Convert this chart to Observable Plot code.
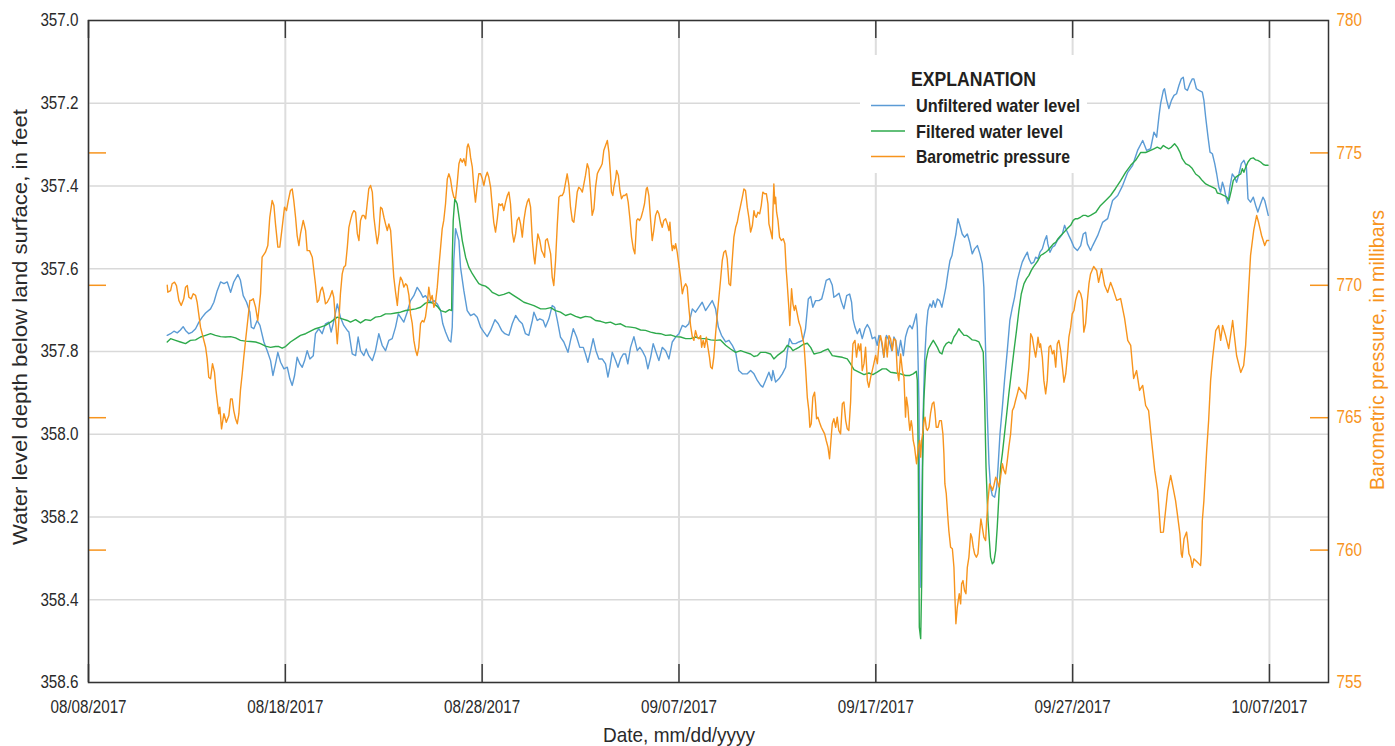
<!DOCTYPE html>
<html>
<head>
<meta charset="utf-8">
<script src="https://cdn.jsdelivr.net/npm/d3@7"></script>
<script src="https://cdn.jsdelivr.net/npm/@observablehq/plot@0.6"></script>
<style>
  html, body { margin: 0; padding: 0; background: #fff; }
  #chart svg { display: block; }
</style>
</head>
<body>
<div id="chart"></div>
<script>
// Time values are days elapsed since 08/08/2017 00:00.
const START = Date.UTC(2017, 7, 8);
const DAY = 86400000;

// Unfiltered water level, feet below land surface: [day, depth]
const unfiltered = [[4.00,357.761],[4.17,357.757],[4.34,357.751],[4.51,357.755],[4.67,357.748],[4.81,357.740],[4.93,357.749],[5.10,357.757],[5.27,357.753],[5.44,357.745],[5.61,357.729],[5.78,357.717],[5.95,357.707],[6.20,357.697],[6.37,357.681],[6.54,357.653],[6.71,357.632],[6.88,357.636],[7.05,357.632],[7.22,357.657],[7.38,357.632],[7.59,357.614],[7.72,357.628],[7.86,357.665],[8.03,357.681],[8.20,357.705],[8.27,357.741],[8.40,357.745],[8.57,357.725],[8.71,357.737],[8.91,357.777],[9.08,357.798],[9.25,357.822],[9.37,357.858],[9.50,357.830],[9.62,357.802],[9.76,357.826],[9.93,357.842],[10.10,357.838],[10.23,357.866],[10.35,357.882],[10.47,357.858],[10.60,357.814],[10.74,357.830],[10.86,357.838],[10.98,357.822],[11.11,357.798],[11.25,357.818],[11.42,357.810],[11.53,357.757],[11.70,357.745],[11.87,357.757],[12.04,357.733],[12.21,357.729],[12.33,357.753],[12.47,357.725],[12.64,357.685],[12.80,357.717],[12.97,357.737],[13.15,357.749],[13.23,357.753],[13.40,357.806],[13.57,357.810],[13.70,357.765],[13.82,357.798],[13.99,357.810],[14.11,357.794],[14.24,357.810],[14.42,357.822],[14.58,357.798],[14.75,357.757],[14.92,357.785],[15.09,357.798],[15.26,357.773],[15.43,357.769],[15.60,357.741],[15.74,357.709],[15.85,357.717],[16.02,357.729],[16.19,357.705],[16.36,357.677],[16.53,357.665],[16.70,357.645],[16.87,357.657],[16.99,357.669],[17.12,357.665],[17.29,357.677],[17.43,357.681],[17.55,357.677],[17.72,357.685],[17.89,357.701],[18.00,357.733],[18.14,357.753],[18.31,357.773],[18.41,357.777],[18.48,357.741],[18.56,357.580],[18.65,357.503],[18.82,357.532],[18.90,357.596],[19.07,357.653],[19.24,357.701],[19.41,357.713],[19.58,357.709],[19.75,357.717],[19.92,357.741],[20.09,357.753],[20.26,357.764],[20.43,357.749],[20.65,357.723],[20.82,357.733],[20.99,357.749],[21.15,357.757],[21.36,357.761],[21.53,357.733],[21.70,357.713],[21.87,357.725],[22.04,357.733],[22.20,357.757],[22.37,357.761],[22.55,357.725],[22.63,357.705],[22.80,357.725],[22.93,357.721],[23.10,357.725],[23.22,357.741],[23.39,357.721],[23.56,357.689],[23.68,357.693],[23.82,357.725],[23.98,357.765],[24.15,357.777],[24.36,357.802],[24.49,357.773],[24.63,357.745],[24.80,357.765],[24.96,357.790],[25.14,357.790],[25.25,357.806],[25.37,357.826],[25.51,357.798],[25.64,357.769],[25.78,357.798],[25.93,357.818],[26.10,357.818],[26.27,357.830],[26.39,357.862],[26.49,357.838],[26.61,357.802],[26.78,357.822],[26.90,357.838],[27.03,357.818],[27.17,357.806],[27.29,357.806],[27.40,357.830],[27.54,357.790],[27.71,357.764],[27.88,357.798],[28.01,357.790],[28.13,357.798],[28.30,357.814],[28.42,357.842],[28.56,357.814],[28.69,357.781],[28.81,357.798],[28.98,357.822],[29.15,357.790],[29.32,357.798],[29.49,357.818],[29.66,357.777],[29.83,357.765],[30.00,357.757],[30.17,357.737],[30.34,357.741],[30.50,357.733],[30.68,357.697],[30.84,357.705],[31.01,357.693],[31.18,357.681],[31.35,357.701],[31.52,357.689],[31.69,357.677],[31.86,357.697],[32.00,357.741],[32.16,357.761],[32.37,357.777],[32.54,357.773],[32.71,357.785],[32.88,357.802],[33.04,357.846],[33.22,357.854],[33.47,357.854],[33.64,357.846],[33.81,357.854],[33.98,357.870],[34.15,357.882],[34.26,357.886],[34.40,357.870],[34.57,357.850],[34.71,357.870],[34.77,357.846],[34.91,357.874],[35.08,357.866],[35.25,357.854],[35.42,357.838],[35.50,357.802],[35.62,357.769],[35.76,357.781],[35.93,357.781],[36.09,357.777],[36.30,357.773],[36.43,357.745],[36.57,357.673],[36.69,357.667],[36.80,357.693],[36.94,357.677],[37.11,357.677],[37.25,357.673],[37.36,357.653],[37.48,357.628],[37.65,357.624],[37.79,357.640],[37.87,357.669],[37.99,357.665],[38.13,357.659],[38.26,357.681],[38.38,357.697],[38.52,357.665],[38.67,357.661],[38.77,357.681],[38.84,357.721],[38.94,357.741],[39.06,357.757],[39.18,357.745],[39.31,357.769],[39.45,357.745],[39.57,357.735],[39.69,357.745],[39.82,357.769],[39.96,357.765],[40.07,357.785],[40.16,357.761],[40.28,357.773],[40.41,357.814],[40.54,357.761],[40.67,357.773],[40.81,357.798],[40.92,357.765],[41.01,357.773],[41.14,357.810],[41.26,357.773],[41.40,357.810],[41.51,357.765],[41.63,357.745],[41.73,357.737],[41.85,357.745],[41.97,357.725],[42.06,357.709],[42.11,357.741],[42.19,357.918],[42.24,358.241],[42.29,358.370],[42.34,358.160],[42.40,357.959],[42.48,357.822],[42.57,357.741],[42.65,357.701],[42.75,357.685],[42.84,357.693],[42.92,357.677],[43.02,357.693],[43.13,357.673],[43.24,357.677],[43.36,357.693],[43.46,357.669],[43.56,357.645],[43.66,357.612],[43.77,357.580],[43.87,357.568],[43.97,357.540],[44.07,357.516],[44.17,357.479],[44.27,357.495],[44.39,357.516],[44.51,357.524],[44.65,357.516],[44.77,357.536],[44.90,357.564],[45.02,357.552],[45.16,357.544],[45.29,357.564],[45.41,357.588],[45.49,357.645],[45.58,357.798],[45.67,357.959],[45.75,358.071],[45.83,358.128],[45.92,358.148],[46.04,358.152],[46.14,358.128],[46.21,358.080],[46.31,357.999],[46.43,357.935],[46.54,357.870],[46.68,357.798],[46.81,357.725],[46.94,357.693],[47.05,357.669],[47.19,357.628],[47.32,357.604],[47.44,357.584],[47.56,357.572],[47.70,357.560],[47.78,357.576],[47.90,357.588],[48.03,357.584],[48.12,357.572],[48.24,357.576],[48.34,357.560],[48.46,357.552],[48.58,357.532],[48.68,357.520],[48.74,357.540],[48.85,357.560],[48.97,357.548],[49.09,357.544],[49.22,357.532],[49.36,357.524],[49.48,357.516],[49.59,357.495],[49.70,357.508],[49.81,357.520],[49.93,357.532],[50.07,357.548],[50.24,357.556],[50.41,357.544],[50.54,357.516],[50.66,357.512],[50.75,357.540],[50.91,357.556],[51.02,357.544],[51.27,357.520],[51.52,357.488],[51.78,357.479],[52.03,357.435],[52.29,357.423],[52.54,357.399],[52.80,357.367],[53.05,357.350],[53.30,357.314],[53.56,357.290],[53.76,357.314],[53.96,357.310],[54.13,357.270],[54.27,357.282],[54.39,357.230],[54.47,357.201],[54.61,357.169],[54.67,357.165],[54.78,357.193],[54.89,357.213],[55.02,357.193],[55.15,357.181],[55.28,357.177],[55.40,357.157],[55.52,357.141],[55.62,357.137],[55.71,357.165],[55.83,357.169],[55.96,357.153],[56.08,357.141],[56.16,357.141],[56.29,357.165],[56.42,357.169],[56.59,357.173],[56.67,357.193],[56.76,357.234],[56.88,357.282],[56.98,357.318],[57.10,357.322],[57.22,357.346],[57.32,357.371],[57.43,357.403],[57.52,357.415],[57.61,357.391],[57.69,357.403],[57.83,357.435],[57.89,357.443],[57.99,357.403],[58.11,357.371],[58.23,357.379],[58.33,357.391],[58.45,357.371],[58.57,357.346],[58.70,357.338],[58.83,357.355],[58.91,357.431],[59.04,357.439],[59.18,357.427],[59.30,357.447],[59.41,357.463],[59.55,357.443],[59.67,357.427],[59.76,357.435],[59.86,357.455],[59.94,357.471]];

// Filtered water level, feet below land surface: [day, depth]
const filtered = [[4.00,357.777],[4.17,357.769],[4.42,357.773],[4.67,357.777],[4.93,357.781],[5.18,357.773],[5.44,357.772],[5.69,357.765],[5.95,357.761],[6.20,357.757],[6.45,357.761],[6.71,357.764],[6.96,357.765],[7.22,357.764],[7.47,357.767],[7.72,357.773],[7.98,357.775],[8.23,357.776],[8.49,357.777],[8.74,357.781],[8.99,357.787],[9.25,357.790],[9.50,357.788],[9.67,357.788],[9.84,357.792],[10.01,357.788],[10.26,357.777],[10.52,357.769],[10.77,357.761],[11.03,357.757],[11.28,357.751],[11.53,357.745],[11.79,357.741],[12.04,357.737],[12.30,357.729],[12.47,357.723],[12.64,357.717],[12.89,357.721],[13.15,357.725],[13.31,357.729],[13.57,357.723],[13.82,357.731],[14.07,357.723],[14.33,357.725],[14.58,357.717],[14.84,357.715],[15.09,357.709],[15.35,357.709],[15.60,357.707],[15.85,357.705],[16.11,357.701],[16.36,357.699],[16.62,357.697],[16.87,357.693],[17.12,357.683],[17.29,357.681],[17.50,357.683],[17.72,357.691],[17.89,357.701],[18.14,357.705],[18.34,357.699],[18.45,357.701],[18.48,357.580],[18.53,357.483],[18.61,357.431],[18.73,357.443],[18.85,357.483],[18.99,357.532],[19.16,357.572],[19.32,357.596],[19.50,357.612],[19.66,357.624],[19.83,357.636],[20.01,357.640],[20.17,357.642],[20.34,357.648],[20.51,357.657],[20.68,357.661],[20.85,357.665],[21.10,357.662],[21.36,357.657],[21.61,357.665],[21.87,357.673],[22.12,357.681],[22.37,357.685],[22.63,357.689],[22.97,357.697],[23.22,357.697],[23.48,357.694],[23.73,357.701],[23.98,357.705],[24.24,357.713],[24.49,357.709],[24.75,357.715],[25.00,357.719],[25.25,357.715],[25.51,357.717],[25.76,357.725],[26.02,357.727],[26.27,357.731],[26.52,357.729],[26.78,357.735],[27.03,357.733],[27.29,357.740],[27.54,357.741],[27.79,357.743],[28.05,357.748],[28.30,357.749],[28.56,357.753],[28.81,357.756],[29.07,357.757],[29.32,357.761],[29.57,357.760],[29.83,357.764],[30.08,357.765],[30.34,357.769],[30.59,357.769],[30.84,357.765],[31.10,357.769],[31.35,357.769],[31.61,357.772],[31.86,357.773],[32.11,357.772],[32.37,357.785],[32.62,357.794],[32.88,357.802],[33.13,357.798],[33.38,357.802],[33.64,357.806],[33.81,357.812],[33.98,357.810],[34.15,357.802],[34.40,357.802],[34.65,357.806],[34.82,357.818],[34.99,357.810],[35.16,357.804],[35.33,357.798],[35.50,357.785],[35.67,357.790],[35.79,357.798],[35.93,357.794],[36.09,357.790],[36.30,357.783],[36.52,357.780],[36.69,357.790],[36.86,357.806],[37.03,357.804],[37.20,357.802],[37.36,357.798],[37.58,357.794],[37.79,357.810],[38.04,357.812],[38.30,357.814],[38.55,357.818],[38.72,357.830],[38.89,357.844],[39.14,357.850],[39.40,357.856],[39.65,357.852],[39.85,357.856],[40.07,357.850],[40.33,357.842],[40.53,357.842],[40.75,357.850],[41.01,357.852],[41.26,357.854],[41.51,357.858],[41.73,357.858],[41.90,357.854],[42.06,357.848],[42.11,357.870],[42.16,358.080],[42.21,358.466],[42.28,358.494],[42.33,358.361],[42.38,358.080],[42.44,357.918],[42.55,357.822],[42.67,357.794],[42.82,357.781],[42.92,357.773],[43.02,357.781],[43.13,357.790],[43.24,357.802],[43.36,357.806],[43.46,357.790],[43.58,357.781],[43.71,357.777],[43.84,357.781],[43.97,357.765],[44.09,357.757],[44.22,357.745],[44.34,357.753],[44.48,357.761],[44.61,357.761],[44.73,357.765],[44.90,357.772],[45.07,357.773],[45.24,357.777],[45.36,357.790],[45.46,357.802],[45.53,357.918],[45.60,358.080],[45.70,358.208],[45.77,358.257],[45.83,358.297],[45.92,358.313],[46.00,358.309],[46.09,358.281],[46.17,358.225],[46.26,358.144],[46.34,358.080],[46.43,358.047],[46.54,357.999],[46.65,357.951],[46.76,357.902],[46.88,357.854],[47.02,357.798],[47.15,357.749],[47.27,357.701],[47.39,357.661],[47.53,357.636],[47.66,357.624],[47.78,357.616],[47.90,357.604],[48.00,357.596],[48.12,357.588],[48.24,357.580],[48.37,357.568],[48.51,357.564],[48.63,357.560],[48.74,357.556],[48.88,357.548],[49.02,357.540],[49.14,357.536],[49.25,357.528],[49.39,357.520],[49.56,357.512],[49.73,357.503],[49.90,357.495],[50.03,357.483],[50.15,357.479],[50.27,357.479],[50.41,357.475],[50.54,357.471],[50.66,357.471],[50.78,357.474],[50.91,357.471],[51.17,357.464],[51.42,357.447],[51.68,357.435],[51.93,357.423],[52.18,357.406],[52.44,357.387],[52.69,357.367],[52.95,357.350],[53.20,357.338],[53.46,357.319],[53.71,357.319],[53.96,357.314],[54.13,357.310],[54.30,357.306],[54.47,357.310],[54.61,357.302],[54.73,357.306],[54.89,357.310],[55.02,357.306],[55.18,357.298],[55.32,357.306],[55.45,357.318],[55.57,357.334],[55.74,357.346],[55.91,357.350],[56.08,357.358],[56.25,357.371],[56.42,357.377],[56.59,357.387],[56.76,357.395],[56.93,357.399],[57.10,357.403],[57.27,357.407],[57.35,357.417],[57.52,357.419],[57.69,357.423],[57.83,357.427],[57.94,357.435],[58.06,357.411],[58.16,357.387],[58.28,357.379],[58.40,357.375],[58.54,357.371],[58.62,357.358],[58.70,357.367],[58.79,357.355],[58.91,357.342],[59.04,357.334],[59.18,357.332],[59.30,357.337],[59.41,357.338],[59.55,357.342],[59.69,357.348],[59.81,357.350],[59.93,357.350]];

// Barometric pressure, millibars: [day, pressure]
const pressure = [[4.00,770.00],[4.03,769.74],[4.17,769.80],[4.25,770.06],[4.37,770.12],[4.47,769.99],[4.59,769.43],[4.71,769.24],[4.84,769.49],[4.93,769.93],[5.02,769.99],[5.10,769.55],[5.22,769.49],[5.32,769.68],[5.44,769.62],[5.52,769.36],[5.60,768.92],[5.69,768.42],[5.95,767.66],[6.03,767.22],[6.11,766.53],[6.20,766.47],[6.30,767.04],[6.40,766.72],[6.47,766.09],[6.54,765.65],[6.62,765.15],[6.67,765.40],[6.76,764.58],[6.88,765.15],[7.00,764.83],[7.13,765.08],[7.22,765.71],[7.30,765.71],[7.38,765.27],[7.47,764.96],[7.56,764.77],[7.64,765.15],[7.72,766.03],[7.81,766.66],[7.89,767.29],[7.98,767.92],[8.09,768.67],[8.20,769.43],[8.27,769.43],[8.37,769.49],[8.49,769.17],[8.60,768.67],[8.74,769.68],[8.82,771.06],[8.99,771.25],[9.11,771.50],[9.21,772.57],[9.33,773.20],[9.42,773.01],[9.50,772.32],[9.62,771.44],[9.72,771.44],[9.84,772.19],[9.96,772.95],[10.06,772.82],[10.15,773.20],[10.26,773.58],[10.35,773.64],[10.43,773.20],[10.52,772.57],[10.60,771.88],[10.69,771.50],[10.77,771.94],[10.91,772.45],[11.03,772.07],[11.11,771.31],[11.23,771.31],[11.37,771.06],[11.45,770.56],[11.53,770.06],[11.62,769.36],[11.70,769.43],[11.79,769.80],[11.88,769.93],[11.96,769.68],[12.04,769.30],[12.13,769.36],[12.26,769.55],[12.38,769.80],[12.46,769.55],[12.55,768.67],[12.64,767.79],[12.72,768.67],[12.80,769.68],[12.89,770.43],[12.97,770.68],[13.06,770.75],[13.15,771.44],[13.23,772.19],[13.31,772.45],[13.40,772.70],[13.48,772.82],[13.57,772.76],[13.66,771.94],[13.74,771.69],[13.82,772.45],[13.91,772.64],[13.99,772.64],[14.08,772.51],[14.16,773.08],[14.24,773.64],[14.33,773.77],[14.42,773.52],[14.50,772.57],[14.58,772.07],[14.67,771.57],[14.75,771.94],[14.84,772.95],[14.92,772.89],[15.01,772.57],[15.09,772.32],[15.18,772.07],[15.26,772.32],[15.35,772.07],[15.43,771.19],[15.51,770.31],[15.60,769.74],[15.69,769.24],[15.77,769.93],[15.85,770.31],[15.94,770.18],[16.02,769.93],[16.11,770.06],[16.19,769.99],[16.28,769.62],[16.36,768.92],[16.45,768.55],[16.53,767.92],[16.62,767.54],[16.70,767.35],[16.78,767.66],[16.87,768.55],[16.96,768.67],[17.04,768.61],[17.12,768.80],[17.21,769.30],[17.29,769.93],[17.38,769.43],[17.46,769.62],[17.55,769.17],[17.63,769.36],[17.72,769.93],[17.80,770.68],[17.89,771.44],[17.97,772.13],[18.05,772.45],[18.14,773.08],[18.23,774.02],[18.31,774.21],[18.39,774.02],[18.48,773.58],[18.56,773.33],[18.65,773.27],[18.73,773.83],[18.82,774.59],[18.90,774.78],[18.99,774.65],[19.07,774.78],[19.16,774.52],[19.24,775.22],[19.29,775.34],[19.36,775.16],[19.41,774.84],[19.50,774.46],[19.58,773.70],[19.66,773.14],[19.75,773.77],[19.83,774.21],[19.92,774.21],[20.01,774.02],[20.09,773.77],[20.17,774.08],[20.26,774.27],[20.34,774.08],[20.43,773.70],[20.51,773.01],[20.59,772.38],[20.68,772.01],[20.77,772.51],[20.85,773.08],[20.94,773.01],[21.02,773.08],[21.10,772.82],[21.19,773.14],[21.28,773.39],[21.36,773.52],[21.44,773.08],[21.53,772.01],[21.61,771.63],[21.70,771.94],[21.78,772.45],[21.87,772.57],[21.95,772.32],[22.04,771.82],[22.12,772.45],[22.21,772.89],[22.29,773.14],[22.37,773.27],[22.46,772.95],[22.55,771.69],[22.63,771.06],[22.68,770.81],[22.76,771.44],[22.83,771.94],[22.93,771.69],[23.02,771.31],[23.10,771.19],[23.17,771.06],[23.22,771.69],[23.31,771.76],[23.39,771.50],[23.48,771.19],[23.56,770.31],[23.64,769.99],[23.73,770.94],[23.82,772.32],[23.90,773.33],[23.98,773.39],[24.07,773.39],[24.15,773.52],[24.24,773.89],[24.32,774.21],[24.41,773.77],[24.49,772.95],[24.58,772.45],[24.66,772.38],[24.75,772.95],[24.83,773.52],[24.91,773.70],[25.00,773.64],[25.09,773.52],[25.17,773.83],[25.25,774.15],[25.34,774.59],[25.42,774.40],[25.51,773.52],[25.59,772.64],[25.68,772.89],[25.76,773.70],[25.85,774.21],[25.93,774.34],[26.02,774.46],[26.10,774.59],[26.18,775.09],[26.27,775.28],[26.36,775.47],[26.44,775.03],[26.52,774.21],[26.57,773.52],[26.64,773.39],[26.69,773.70],[26.78,774.02],[26.83,774.34],[26.92,774.15],[27.00,773.58],[27.08,773.27],[27.17,773.39],[27.25,773.39],[27.34,773.46],[27.42,773.14],[27.50,772.57],[27.59,771.82],[27.68,771.38],[27.76,771.19],[27.85,772.45],[27.91,772.51],[28.00,772.45],[28.08,772.57],[28.17,772.82],[28.25,773.08],[28.34,773.64],[28.39,773.70],[28.47,773.39],[28.56,772.45],[28.64,771.69],[28.72,772.07],[28.81,772.64],[28.90,772.82],[28.98,772.70],[29.07,772.38],[29.15,772.19],[29.23,772.45],[29.32,772.51],[29.41,772.32],[29.49,772.07],[29.54,772.38],[29.61,771.63],[29.66,771.31],[29.71,771.50],[29.78,771.38],[29.83,771.57],[29.91,771.25],[29.99,770.81],[30.08,770.31],[30.17,769.68],[30.25,769.93],[30.34,770.06],[30.42,769.93],[30.50,769.17],[30.59,768.48],[30.68,768.04],[30.76,767.92],[30.84,768.29],[30.93,768.04],[31.01,767.98],[31.10,768.10],[31.15,767.66],[31.23,767.92],[31.30,767.66],[31.39,768.04],[31.47,767.66],[31.55,767.29],[31.61,766.91],[31.69,766.85],[31.77,767.29],[31.86,768.17],[31.95,768.92],[32.03,769.55],[32.11,770.18],[32.20,770.94],[32.28,771.25],[32.37,771.31],[32.45,771.00],[32.54,770.06],[32.62,769.99],[32.67,770.56],[32.74,771.31],[32.79,771.82],[32.88,772.19],[32.96,772.38],[33.04,772.70],[33.13,773.01],[33.22,773.33],[33.30,773.64],[33.38,773.58],[33.47,772.95],[33.55,772.57],[33.64,772.01],[33.73,772.26],[33.81,772.82],[33.86,772.64],[33.93,772.57],[34.01,772.76],[34.10,772.70],[34.18,773.01],[34.26,773.52],[34.35,773.46],[34.44,773.46],[34.52,773.08],[34.57,772.32],[34.65,772.07],[34.74,771.76],[34.77,772.70],[34.82,773.83],[34.87,773.08],[34.91,773.33],[34.96,772.76],[35.03,772.45],[35.11,771.82],[35.20,771.69],[35.30,771.76],[35.38,771.57],[35.45,770.56],[35.50,770.06],[35.58,769.17],[35.63,768.48],[35.72,769.87],[35.79,769.30],[35.86,769.05],[35.92,769.24],[36.01,768.92],[36.09,768.61],[36.18,768.42],[36.27,768.04],[36.35,767.79],[36.43,766.91],[36.52,765.77],[36.60,765.27],[36.65,764.64],[36.72,764.77],[36.80,765.77],[36.89,765.96],[36.94,765.53],[36.99,764.96],[37.06,765.02],[37.14,764.83],[37.23,764.64],[37.31,764.52],[37.40,764.39],[37.48,764.14],[37.57,763.89],[37.65,763.45],[37.72,764.14],[37.79,764.77],[37.87,764.96],[37.96,764.64],[38.04,765.02],[38.12,764.52],[38.21,764.39],[38.30,765.53],[38.38,765.59],[38.47,764.89],[38.55,764.58],[38.63,764.52],[38.72,765.59],[38.77,766.78],[38.84,767.79],[38.94,767.92],[39.02,767.29],[39.11,767.79],[39.18,767.54],[39.24,767.79],[39.31,766.78],[39.40,767.04],[39.48,767.66],[39.57,766.40],[39.65,766.15],[39.74,766.53],[39.82,766.78],[39.90,767.04],[39.99,767.35],[40.08,767.04],[40.16,767.79],[40.24,768.10],[40.33,767.79],[40.41,767.29],[40.50,768.04],[40.58,767.29],[40.67,768.10],[40.75,767.98],[40.84,767.54],[40.92,767.98],[41.01,767.92],[41.09,766.78],[41.17,766.40],[41.26,767.41],[41.35,766.78],[41.43,766.53],[41.51,765.02],[41.56,765.77],[41.63,765.40],[41.68,764.89],[41.73,764.52],[41.80,764.89],[41.85,764.64],[41.90,764.14],[41.97,763.89],[42.02,763.57],[42.07,763.26],[42.11,763.51],[42.16,763.89],[42.23,764.14],[42.28,763.51],[42.33,764.14],[42.38,764.39],[42.45,764.89],[42.50,765.02],[42.57,764.58],[42.62,764.52],[42.70,764.64],[42.78,765.15],[42.87,765.53],[42.95,765.59],[43.00,765.27],[43.07,764.64],[43.16,764.64],[43.24,764.89],[43.33,764.89],[43.41,764.39],[43.46,763.64],[43.51,762.50],[43.58,762.13],[43.66,761.24],[43.71,760.74],[43.80,760.11],[43.89,760.05],[43.97,759.35],[44.02,758.22],[44.07,757.22],[44.14,757.84],[44.19,758.10],[44.24,758.35],[44.31,757.97],[44.36,758.73],[44.43,758.85],[44.51,758.47],[44.58,758.35],[44.65,759.35],[44.73,759.73],[44.82,760.62],[44.88,760.49],[44.95,760.11],[45.02,759.86],[45.11,759.73],[45.19,759.86],[45.27,760.62],[45.34,761.18],[45.41,760.87],[45.49,760.49],[45.58,760.36],[45.63,761.12],[45.70,761.87],[45.78,762.50],[45.87,762.38],[45.93,762.25],[46.00,762.44],[46.09,762.75],[46.17,762.63],[46.26,762.38],[46.34,762.75],[46.43,763.26],[46.51,763.01],[46.59,762.88],[46.68,763.38],[46.76,763.89],[46.85,764.39],[46.94,765.27],[47.02,765.40],[47.10,765.65],[47.19,765.90],[47.27,766.15],[47.36,766.03],[47.44,765.96],[47.53,765.90],[47.61,765.71],[47.70,766.28],[47.78,766.91],[47.87,768.17],[47.95,768.04],[48.03,767.66],[48.12,767.29],[48.17,767.54],[48.24,768.04],[48.32,767.66],[48.37,767.79],[48.46,767.29],[48.54,766.40],[48.63,765.90],[48.71,766.40],[48.80,767.66],[48.88,767.73],[48.97,767.41],[49.05,767.54],[49.14,766.91],[49.22,767.79],[49.30,767.92],[49.39,767.54],[49.48,766.91],[49.56,766.34],[49.65,766.66],[49.73,767.29],[49.81,768.04],[49.90,768.42],[49.98,768.92],[50.07,769.05],[50.15,769.43],[50.24,769.68],[50.32,769.80],[50.41,769.68],[50.49,769.43],[50.57,768.23],[50.66,768.55],[50.75,769.43],[50.83,770.06],[50.91,770.43],[51.07,770.71],[51.22,770.56],[51.32,770.11],[51.47,770.63],[51.63,769.99],[51.78,769.73],[51.93,770.11],[52.08,769.80],[52.24,769.43],[52.44,769.50],[52.64,768.75],[52.80,767.92],[52.95,767.73],[53.10,766.48],[53.25,766.78],[53.40,766.03],[53.56,766.22],[53.71,765.46],[53.86,765.27],[54.01,764.14],[54.17,763.01],[54.32,762.25],[54.47,760.67],[54.61,760.68],[54.67,761.12],[54.83,762.25],[54.98,762.82],[55.11,762.33],[55.23,761.87],[55.32,761.37],[55.45,760.62],[55.52,759.86],[55.57,759.73],[55.66,760.43],[55.79,760.68],[55.86,760.24],[55.91,759.86],[55.99,759.73],[56.08,759.35],[56.16,759.67],[56.25,759.61],[56.34,759.54],[56.42,759.48],[56.50,759.42],[56.54,759.86],[56.59,761.12],[56.67,761.87],[56.81,763.76],[56.91,764.89],[57.01,766.40],[57.11,767.24],[57.27,768.29],[57.42,768.48],[57.52,767.92],[57.62,768.48],[57.77,768.10],[57.93,767.61],[58.13,768.67],[58.33,767.35],[58.54,766.71],[58.69,766.97],[58.79,767.73],[58.94,769.80],[59.04,771.13],[59.20,772.07],[59.35,772.64],[59.45,772.37],[59.60,771.88],[59.76,771.50],[59.86,771.69],[59.96,771.69]];

// Axis ticks
const dateTicks = ["2017-08-08", "2017-08-18", "2017-08-28", "2017-09-07", "2017-09-17", "2017-09-27", "2017-10-07"];
const depthTicks = [357.0, 357.2, 357.4, 357.6, 357.8, 358.0, 358.2, 358.4, 358.6];
const pressureTicks = [755, 760, 765, 770, 775, 780];
const pressureInnerTicks = [760, 765, 770, 775];

// Series names and colours
const seriesNames = ["Unfiltered water level", "Filtered water level", "Barometric pressure"];
const seriesColors = ["#5b9bd5", "#2eaa4c", "#f7941d"];
const [BLUE, GREEN, ORANGE] = seriesColors;

const FONT = "'Liberation Sans', Arial, sans-serif";
const INK = "#2a2a2a";
const NARROW = 0.845; // horizontal squeeze giving a condensed face

// Pressure (755–780 mb, bottom to top) shares the depth axis (358.6–357.0 ft).
const depthOfPressure = p => 357 + (780 - p) * 1.6 / 25;
const pressureOfDepth = y => 780 - (y - 357) * 25 / 1.6;
const toDate = d => new Date(START + d * DAY);

const W = 1395, H = 746;
const M = {left: 88, right: 67, top: 20, bottom: 64};
const innerW = W - M.left - M.right;
const innerH = H - M.top - M.bottom;
const tickLen = 18;
const dates = dateTicks.map(s => new Date(s + "T00:00Z"));

const chart = Plot.plot({
  width: W,
  height: H,
  marginLeft: M.left,
  marginRight: M.right,
  marginTop: M.top,
  marginBottom: M.bottom,
  style: {fontFamily: FONT, fontSize: "18px", color: INK, background: "#fff"},
  x: {type: "utc", domain: [new Date(START), new Date("2017-10-10T00:00Z")]},
  y: {domain: [358.6, 357.0]},
  marks: [
    Plot.gridY(depthTicks, {stroke: "#d9d9d9", strokeOpacity: 1, strokeWidth: 1.5}),
    Plot.gridX(dates, {stroke: "#dddddd", strokeOpacity: 1, strokeWidth: 2}),
    Plot.line(unfiltered, {x: d => toDate(d[0]), y: d => d[1], stroke: BLUE, strokeWidth: 1.4}),
    Plot.line(filtered, {x: d => toDate(d[0]), y: d => d[1], stroke: GREEN, strokeWidth: 1.4}),
    Plot.line(pressure, {x: d => toDate(d[0]), y: d => depthOfPressure(d[1]), stroke: ORANGE, strokeWidth: 1.4}),
    // inward date ticks along the top and bottom edges
    Plot.tickX(dates, {stroke: "#3a3a3a", strokeWidth: 1.5, insetTop: innerH - tickLen}),
    Plot.tickX(dates, {stroke: "#3a3a3a", strokeWidth: 1.5, insetBottom: innerH - tickLen}),
    // inward pressure ticks on both side edges
    Plot.tickY(pressureInnerTicks, {y: depthOfPressure, stroke: ORANGE, strokeWidth: 1.5, insetRight: innerW - tickLen}),
    Plot.tickY(pressureInnerTicks, {y: depthOfPressure, stroke: ORANGE, strokeWidth: 1.5, insetLeft: innerW - tickLen}),
    Plot.axisX(dates, {tickSize: 0, tickPadding: 18, tickFormat: d3.utcFormat("%m/%d/%Y"), label: null, fill: INK}),
    Plot.axisY(depthTicks, {anchor: "left", tickSize: 0, tickPadding: 10, tickFormat: d3.format(".1f"), label: null, fill: INK}),
    Plot.axisY(pressureTicks.map(depthOfPressure), {anchor: "right", tickSize: 0, tickPadding: 8,
      tickFormat: y => String(Math.round(pressureOfDepth(y))), label: null, fill: ORANGE}),
    Plot.frame({stroke: "#333", strokeWidth: 1.5})
  ]
});

document.getElementById("chart").appendChild(chart);

const svg = d3.select(chart);

// Squeeze a text element horizontally so it reads like a condensed face,
// or fit it to a given run length.
function condense(node, factor = NARROW, length = null) {
  const w = length ?? node.getComputedTextLength() * factor;
  if (w > 0) {
    node.setAttribute("textLength", w.toFixed(1));
    node.setAttribute("lengthAdjust", "spacingAndGlyphs");
  }
}

svg.selectAll("g[aria-label$='tick label'] text").each(function() { condense(this); });

function addText(parent, attrs, str, length = null) {
  const t = parent.append("text")
    .attr("font-family", FONT)
    .attr("text-anchor", "start");
  for (const [k, v] of Object.entries(attrs)) t.attr(k, v);
  t.text(str);
  condense(t.node(), NARROW, length);
  return t;
}

// Axis titles
addText(svg, {x: 679, y: 742, "text-anchor": "middle", "font-size": 21, fill: INK}, "Date, mm/dd/yyyy", 152);
addText(svg, {transform: "translate(27,327) rotate(-90)", "text-anchor": "middle", "font-size": 21, fill: INK},
  "Water level depth below land surface, in feet", 436);
addText(svg, {transform: "translate(1384,350) rotate(-90)", "text-anchor": "middle", "font-size": 21, fill: ORANGE},
  "Barometric pressure, in millibars", 280);

// Explanation (legend)
const legend = svg.append("g");
legend.append("rect")
  .attr("x", 860).attr("y", 55).attr("width", 227).attr("height", 118)
  .attr("fill", "#fff");
addText(legend, {x: 911, y: 86, "font-size": 21, "font-weight": "bold", fill: "#231f20"}, "EXPLANATION", 125);
const legendLengths = [164, 147, 154];
seriesNames.forEach((name, i) => {
  const y = 105.5 + i * 25.5;
  legend.append("line")
    .attr("x1", 871).attr("x2", 905).attr("y1", y).attr("y2", y)
    .attr("stroke", seriesColors[i]).attr("stroke-width", 1.6);
  addText(legend, {x: 916, y: y + 6.5, "font-size": 19, "font-weight": "bold", fill: "#231f20"}, name, legendLengths[i]);
});
</script>
</body>
</html>
